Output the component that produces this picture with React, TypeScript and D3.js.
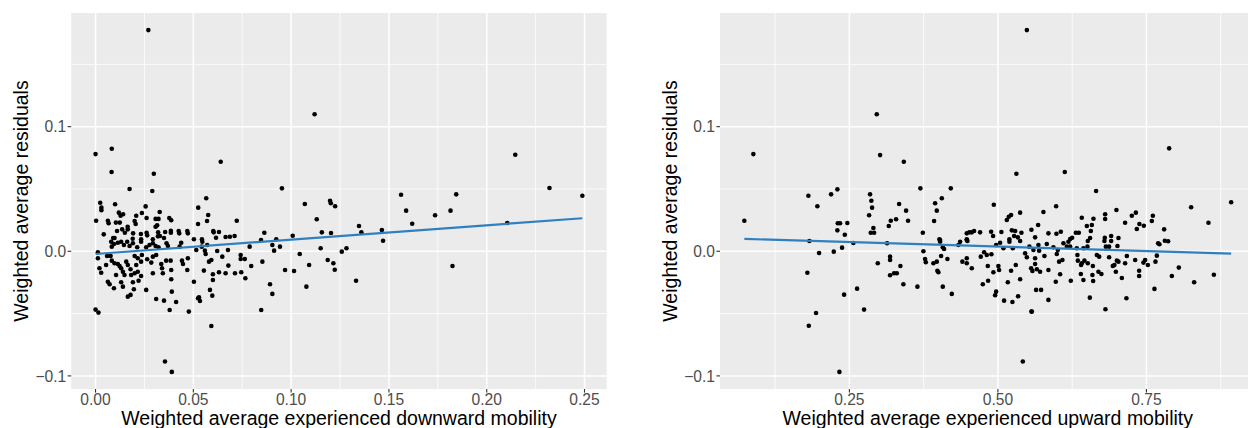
import React from "react";
import * as d3 from "d3";

// residuals vs experienced downward mobility  [x, y]
const downPoints: [number, number][] = [
  [0.027, 0.1775], [0.112, 0.11], [0, 0.078], [0.0083, 0.0823], [0.0082, 0.0636], [0.064, 0.0719],
  [0.0298, 0.0622], [0.029, 0.0484], [0.0174, 0.05], [0.0953, 0.0505], [0.107, 0.038], [0.1131, 0.0257],
  [0.0024, 0.039], [0.003, 0.035], [0.003, 0.033], [0.01, 0.0377], [0.0256, 0.036], [0.0328, 0.0315],
  [0.0119, 0.031], [0.0128, 0.0285], [0.0141, 0.0297], [0.0237, 0.0307], [0.0208, 0.0285], [0.0003, 0.0245],
  [0.0063, 0.0245], [0.0067, 0.0225], [0.0104, 0.023], [0.0124, 0.023], [0.02, 0.0243], [0.0205, 0.0219],
  [0.0261, 0.0267], [0.0307, 0.026], [0.0322, 0.026], [0.0315, 0.0208], [0.0307, 0.0197], [0.0377, 0.0267],
  [0.0387, 0.0249], [0.0525, 0.035], [0.0524, 0.0219], [0.0136, 0.0176], [0.011, 0.0163], [0.0164, 0.0197],
  [0.0165, 0.0176], [0.0042, 0.0136], [0.009, 0.0107], [0.0097, 0.0107], [0.015, 0.0149], [0.0192, 0.0144],
  [0.0232, 0.0139], [0.0261, 0.0149], [0.0264, 0.0128], [0.032, 0.0152], [0.0329, 0.0123], [0.0356, 0.0155],
  [0.0385, 0.0165], [0.0385, 0.0149], [0.0425, 0.0163], [0.0428, 0.0144], [0.0469, 0.0163], [0.0472, 0.0144],
  [0.0503, 0.0096], [0.019, 0.0101], [0.0233, 0.0096], [0.0293, 0.0096], [0.0319, 0.012], [0.035, 0.0107],
  [0.0566, 0.0425], [0.0576, 0.0291], [0.057, 0.0243], [0.0722, 0.0245], [0.0602, 0.0163], [0.0604, 0.0152],
  [0.0631, 0.0155], [0.0616, 0.0109], [0.0665, 0.0115], [0.0687, 0.0117], [0.0711, 0.0123], [0.0863, 0.0149],
  [0.1008, 0.0125], [0.0924, 0.0096], [0.0846, 0.009], [0.0544, 0.0096],
  [0.008, 0.0077], [0.0094, 0.0059], [0.0083, 0.0037], [0.0114, 0.0069], [0.0131, 0.0077], [0.0145, 0.005],
  [0.0162, 0.0077], [0.0174, 0.0042], [0.0191, 0.0064], [0.0213, 0.0032], [0.0233, 0.0077], [0.0259, 0.0032],
  [0.0276, 0.005], [0.0293, 0.0064], [0.0307, 0.0042], [0.0322, 0.0032], [0.0363, 0.0064], [0.037, 0.0042],
  [0.043, 0.0037], [0.0438, 0.0069], [0.0515, 0.001], [0.0012, -0.0008], [0.0012, -0.0056], [0.0059, -0.0038],
  [0.0077, -0.0038], [0.0083, -0.0075], [0.0097, -0.0096], [0.0114, -0.0102], [0.0123, -0.0118], [0.002, -0.0136],
  [0.0029, -0.0172], [0.0054, -0.011], [0.0105, -0.019], [0.0131, -0.0136], [0.014, -0.0164], [0.0157, -0.0083],
  [0.0165, -0.011], [0.0179, -0.0144], [0.0148, -0.019], [0.0182, -0.019], [0.02, -0.0176], [0.0216, -0.0164],
  [0.0233, -0.0198], [0.02, -0.0038], [0.0216, -0.0056], [0.0237, -0.003], [0.0208, -0.011], [0.0233, -0.0083],
  [0.0264, -0.0064], [0.0285, -0.0091], [0.0293, -0.0043], [0.031, -0.003], [0.0336, -0.0102], [0.034, -0.0136],
  [0.0361, -0.0075], [0.0384, -0.0075], [0.0293, -0.0176], [0.0344, -0.0176], [0.0387, -0.015], [0.0442, -0.0075],
  [0.0447, -0.0102], [0.0472, -0.0056], [0.0469, -0.015], [0.0387, -0.0225], [0.0503, -0.0244], [0.0063, -0.0244],
  [0.0072, -0.0265], [0.0131, -0.0249], [0.014, -0.0284], [0.0191, -0.0249], [0.022, -0.0236], [0.0094, -0.0297],
  [0.0196, -0.0305], [0.0259, -0.031], [0.0165, -0.0364], [0.0179, -0.035], [0.039, -0.0324], [0.031, -0.0383],
  [0.035, -0.0396], [0.0412, -0.0407], [0, -0.0468], [0.0015, -0.0492], [0.0379, -0.0471], [0.0477, -0.0484],
  [0.0524, -0.0377], [0.0546, 0.0077], [0.0571, 0.005], [0.0543, 0.0037], [0.0559, 0.0005], [0.0563, -0.0022],
  [0.0622, 0.0002], [0.0648, -0.0043], [0.0677, 0.001], [0.058, -0.0083], [0.0592, -0.007], [0.0742, -0.003],
  [0.0742, -0.0062], [0.0763, -0.0062], [0.0679, -0.0115], [0.0788, 0.0037], [0.0796, -0.0118], [0.0853, -0.0083],
  [0.0904, 0.005], [0.0913, 0.0005], [0.0943, 0.0037], [0.1044, -0.0022], [0.1092, -0.011], [0.0554, -0.0155],
  [0.06, -0.0184], [0.06, -0.023], [0.0631, -0.0168], [0.0665, -0.0176], [0.0713, -0.0176], [0.0745, -0.0168],
  [0.0766, -0.0217], [0.0969, -0.015], [0.1015, -0.0158], [0.0892, -0.0265], [0.0904, -0.0342], [0.1078, -0.0284],
  [0.0585, -0.031], [0.0597, -0.0356], [0.0529, -0.0369], [0.0534, -0.0399], [0.0847, -0.0471], [0.0592, -0.0599],
  [0.0355, -0.0885], [0.039, -0.0968],
  [0.1199, 0.0406], [0.1203, 0.0385], [0.1225, 0.0361], [0.1157, 0.0152], [0.1204, 0.0147], [0.1347, 0.0203],
  [0.1359, 0.0152], [0.1464, 0.0171], [0.147, 0.0085], [0.1562, 0.0454], [0.1588, 0.0326], [0.1619, 0.0221],
  [0.1736, 0.0289], [0.1815, 0.0326], [0.1844, 0.0457], [0.1825, -0.0118], [0.2146, 0.0775], [0.2105, 0.0227],
  [0.2321, 0.0508], [0.2489, 0.0446], [0.1151, 0.0024], [0.1187, -0.007], [0.1216, -0.0096], [0.1223, -0.0148],
  [0.1259, -0.0003], [0.1283, 0.0024], [0.1332, -0.0236],
];

// residuals vs experienced upward mobility  [x, y]
const upPoints: [number, number][] = [
  [0.0732, 0.0245], [0.0884, 0.078], [0.2961, 0.11], [0.3017, 0.0772], [0.3416, 0.0719], [0.3695, 0.0505],
  [0.2298, 0.0497], [0.2192, 0.0457], [0.181, 0.0446], [0.1961, 0.0361], [0.2848, 0.0457], [0.287, 0.0406],
  [0.2882, 0.035], [0.2832, 0.0289], [0.3337, 0.038], [0.3455, 0.0326], [0.3488, 0.0245], [0.3197, 0.0245],
  [0.3163, 0.0203], [0.3286, 0.0257], [0.2904, 0.0187], [0.286, 0.0149], [0.2916, 0.0149], [0.2305, 0.0225],
  [0.2343, 0.0225], [0.2466, 0.0227], [0.2298, 0.0168], [0.2423, 0.0133], [0.3736, 0.0149], [0.1827, 0.0083],
  [0.2567, 0.0067], [0.3135, 0.0064], [0.2377, 0.0029], [0.2237, -0.0003], [0.199, -0.0014], [0.3746, 0],
  [0.3774, -0.0062], [0.3786, -0.0088], [0.3914, -0.0096], [0.2978, -0.0096], [0.3185, -0.0043], [0.3185, -0.007],
  [0.3359, -0.0118], [0.3185, -0.0192], [0.3252, -0.0176], [0.3298, -0.0176], [0.3409, -0.0265], [0.3645, -0.0284],
  [0.1793, -0.0172], [0.263, -0.03], [0.2411, -0.0348], [0.1939, -0.0495], [0.1817, -0.0597], [0.2747, -0.0468],
  [0.2332, -0.0968], [0.3943, 0.0385], [0.3971, 0.0326], [0.3926, 0.0243], [0.3981, -0.0156], [0.3998, -0.0168],
  [0.5487, 0.1775], [0.7882, 0.0826], [0.6126, 0.0636], [0.5311, 0.0622], [0.6653, 0.0484], [0.4207, 0.0505],
  [0.4056, 0.0425], [0.8926, 0.0393], [0.8252, 0.0353], [0.8544, 0.0229], [0.4931, 0.0374], [0.5183, 0.0277],
  [0.5222, 0.0291], [0.515, 0.0251], [0.5374, 0.031], [0.5766, 0.0315], [0.598, 0.0361], [0.6995, 0.0331],
  [0.6805, 0.0297], [0.6805, 0.0259], [0.6412, 0.0269], [0.6608, 0.0261], [0.6581, 0.0211], [0.6497, 0.0203],
  [0.7254, 0.0285], [0.7322, 0.031], [0.7141, 0.0229], [0.7382, 0.0219], [0.7456, 0.0205], [0.7338, 0.0179],
  [0.7608, 0.0285], [0.7591, 0.0243], [0.7798, 0.0176], [0.7697, 0.0064], [0.7719, 0.0056], [0.781, 0.0085],
  [0.7865, 0.008], [0.7675, -0.0035], [0.7652, -0.0083], [0.7635, -0.0302], [0.7928, -0.0198], [0.8045, -0.0131],
  [0.8303, -0.0249], [0.8635, -0.0188], [0.681, -0.0465], [0.7163, -0.0377], [0.5571, -0.0484], [0.5419, -0.0885],
  [0.4072, -0.0284], [0.4224, -0.0342], [0.4953, -0.0353], [0.497, -0.0324], [0.5104, -0.0396], [0.5244, -0.0407],
  [0.534, -0.0361], [0.4746, -0.0265], [0.4835, -0.0236], [0.5167, -0.0249], [0.5374, -0.0225], [0.5643, -0.031],
  [0.5727, -0.031], [0.585, -0.039], [0.5974, -0.0244], [0.6047, -0.0184], [0.6227, -0.0236], [0.6547, -0.0372],
  [0.6603, -0.0238], [0.6591, -0.019], [0.6742, -0.0182], [0.6985, -0.0164], [0.7086, -0.0214], [0.7377, -0.0156],
  [0.7377, -0.0198], [0.4476, 0.0144], [0.452, 0.0152], [0.456, 0.0152], [0.4599, 0.0163], [0.47, 0.0152],
  [0.4886, 0.0157], [0.4919, 0.0123], [0.5059, 0.0155], [0.5234, 0.0168], [0.529, 0.0163], [0.5396, 0.0149],
  [0.5564, 0.0173], [0.5273, 0.0123], [0.5335, 0.0112], [0.5193, 0.0096], [0.4476, 0.0096], [0.4015, 0.0096],
  [0.5677, 0.0211], [0.6564, 0.0163], [0.585, 0.0144], [0.5985, 0.0141], [0.6059, 0.0157], [0.6312, 0.0149],
  [0.6362, 0.0149], [0.5626, 0.0112], [0.6216, 0.0099], [0.6249, 0.0109], [0.6552, 0.0107], [0.6799, 0.0109],
  [0.6906, 0.0123], [0.7029, 0.0107], [0.3971, -0.0083], [0.4044, -0.0038], [0.415, -0.0062], [0.4027, 0.0077],
  [0.4072, 0.0032], [0.4094, 0.0018], [0.4335, 0.005], [0.4364, 0.0077], [0.4487, 0.0083], [0.4402, -0.0083],
  [0.4476, -0.0056], [0.4476, -0.0096], [0.456, -0.0136], [0.4712, -0.0043], [0.4768, -0.0008], [0.4813, -0.003],
  [0.4891, -0.0024], [0.483, -0.0118], [0.4924, -0.0168], [0.5008, -0.0118], [0.502, -0.015], [0.5222, -0.0156],
  [0.5301, -0.011], [0.497, 0.005], [0.5037, 0.0069], [0.5093, 0.0024], [0.5194, 0.0077], [0.5251, 0.0024],
  [0.5374, 0.0083], [0.5458, -0.0016], [0.5487, -0.0048], [0.553, 0.0037], [0.5559, -0.0136], [0.5581, -0.0158],
  [0.5598, 0.001], [0.5564, -0.0484], [0.4476, 0.009], [0.4027, 0.009], [0.5682, 0.005], [0.5823, 0.0059],
  [0.5694, 0.0005], [0.5934, 0.0032], [0.6008, 0.001], [0.5991, -0.0022], [0.6103, 0.0064], [0.6187, 0.0077],
  [0.616, 0.0037], [0.6216, 0.0037], [0.6328, 0.0024], [0.6338, -0.003], [0.6439, 0.0024], [0.6507, 0.0037],
  [0.6513, 0.0083], [0.6793, 0.0083], [0.6906, 0.0083], [0.6817, 0.0037], [0.6872, 0.0037], [0.7012, 0.0042],
  [0.717, -0.0038], [0.731, -0.007], [0.7478, -0.007], [0.745, -0.0091], [0.7524, -0.011], [0.6665, -0.003],
  [0.6704, -0.0043], [0.6872, -0.0048], [0.7002, -0.0075], [0.7029, -0.0083], [0.6961, -0.011], [0.6934, -0.0118],
  [0.7141, -0.0096], [0.5783, -0.0038], [0.5626, -0.0056], [0.5626, -0.0102], [0.5655, -0.0144], [0.571, -0.0164],
  [0.585, -0.015], [0.603, -0.0083], [0.6086, -0.007], [0.6345, -0.0075], [0.6412, -0.0096], [0.64, -0.011],
  [0.6456, -0.0075], [0.6513, -0.0096], [0.6598, -0.0118], [0.6396, -0.0182], [0.6439, -0.023], [0.6692, -0.0164],
];

// fitted lines: [intercept, slope]
const downFit = [-0.0022, 0.1154];
const upFit = [0.011, -0.0144];

const downTicks = [0, 0.05, 0.1, 0.15, 0.2, 0.25];
const downMinor = [0.025, 0.075, 0.125, 0.175, 0.225];
const upTicks = [0.25, 0.5, 0.75];
const upMinor = [0.125, 0.375, 0.625, 0.875];
const yTicks = [-0.1, 0, 0.1];
const yMinor = [-0.05, 0.05, 0.15];

const FONT = "'Liberation Sans', Arial, Helvetica, sans-serif";

// ggplot style 5% expansion
function expand(vals: number[]): [number, number] {
  const [lo, hi] = d3.extent(vals) as [number, number];
  const pad = (hi - lo) * 0.05;
  return [lo - pad, hi + pad];
}

const allY = [...downPoints, ...upPoints].map(d => d[1]);
const yDomain = expand(allY);

function Panel(props: {
  left: number;
  points: [number, number][];
  fit: number[];
  ticks: number[];
  minor: number[];
  xFormat: (d: number) => string;
  xTitle: string;
}) {
  const { left, points, fit, ticks, minor, xFormat, xTitle } = props;
  const width = 535.5;
  const top = 13;
  const bottom = 389;

  const x = d3.scaleLinear().domain(expand(points.map(d => d[0]))).range([left, left + width]);
  const y = d3.scaleLinear().domain(yDomain).range([bottom, top]);
  const [x0, x1] = d3.extent(points, d => d[0]) as [number, number];
  const line = d3.line<number>().x(d => x(d)).y(d => y(fit[0] + fit[1] * d));
  const yFmt = (d: number) => (d < 0 ? "\u2212" : "") + d3.format(".1f")(Math.abs(d));

  return (
    <g>
      <rect x={left} y={top} width={width} height={bottom - top} fill="#EBEBEB" />
      {minor.map(t => (
        <line key={"mx" + t} x1={x(t)} x2={x(t)} y1={top} y2={bottom} stroke="#fff" strokeWidth={0.8} />
      ))}
      {yMinor.map(t => (
        <line key={"my" + t} x1={left} x2={left + width} y1={y(t)} y2={y(t)} stroke="#fff" strokeWidth={0.8} />
      ))}
      {ticks.map(t => (
        <line key={"gx" + t} x1={x(t)} x2={x(t)} y1={top} y2={bottom} stroke="#fff" strokeWidth={1.5} />
      ))}
      {yTicks.map(t => (
        <line key={"gy" + t} x1={left} x2={left + width} y1={y(t)} y2={y(t)} stroke="#fff" strokeWidth={1.5} />
      ))}
      {points.map((d, i) => (
        <circle key={i} cx={x(d[0])} cy={y(d[1])} r={2.3} fill="#000" />
      ))}
      <path d={line([x0, x1]) || ""} fill="none" stroke="#3080C0" strokeWidth={2.2} />
      {/* x axis */}
      {ticks.map(t => (
        <g key={"tx" + t}>
          <line x1={x(t)} x2={x(t)} y1={bottom} y2={bottom + 3.6} stroke="#333" strokeWidth={1.1} />
          <text x={x(t)} y={405} textAnchor="middle" fontSize={15.6} fill="#4D4D4D" fontFamily={FONT}>
            {xFormat(t)}
          </text>
        </g>
      ))}
      {/* y axis */}
      {yTicks.map(t => (
        <g key={"ty" + t}>
          <line x1={left - 3.6} x2={left} y1={y(t)} y2={y(t)} stroke="#333" strokeWidth={1.1} />
          <text x={left - 5} y={y(t)} dy="0.36em" textAnchor="end" fontSize={15.6} fill="#4D4D4D" fontFamily={FONT}>
            {yFmt(t)}
          </text>
        </g>
      ))}
      <text x={left + width / 2} y={424.5} textAnchor="middle" fontSize={19.5} fill="#000" fontFamily={FONT}>
        {xTitle}
      </text>
      <text
        transform={`translate(${left - 43},${(top + bottom) / 2}) rotate(-90)`}
        textAnchor="middle"
        fontSize={19.5}
        fill="#000"
        fontFamily={FONT}
      >
        Weighted average residuals
      </text>
    </g>
  );
}

export default function App() {
  return (
    <svg width={1248} height={428} style={{ position: "absolute", left: 0, top: 0, background: "#fff" }}>
      <Panel
        left={71.2}
        points={downPoints}
        fit={downFit}
        ticks={downTicks}
        minor={downMinor}
        xFormat={d3.format(".2f")}
        xTitle="Weighted average experienced downward mobility"
      />
      <Panel
        left={720}
        points={upPoints}
        fit={upFit}
        ticks={upTicks}
        minor={upMinor}
        xFormat={d3.format(".2f")}
        xTitle="Weighted average experienced upward mobility"
      />
    </svg>
  );
}
